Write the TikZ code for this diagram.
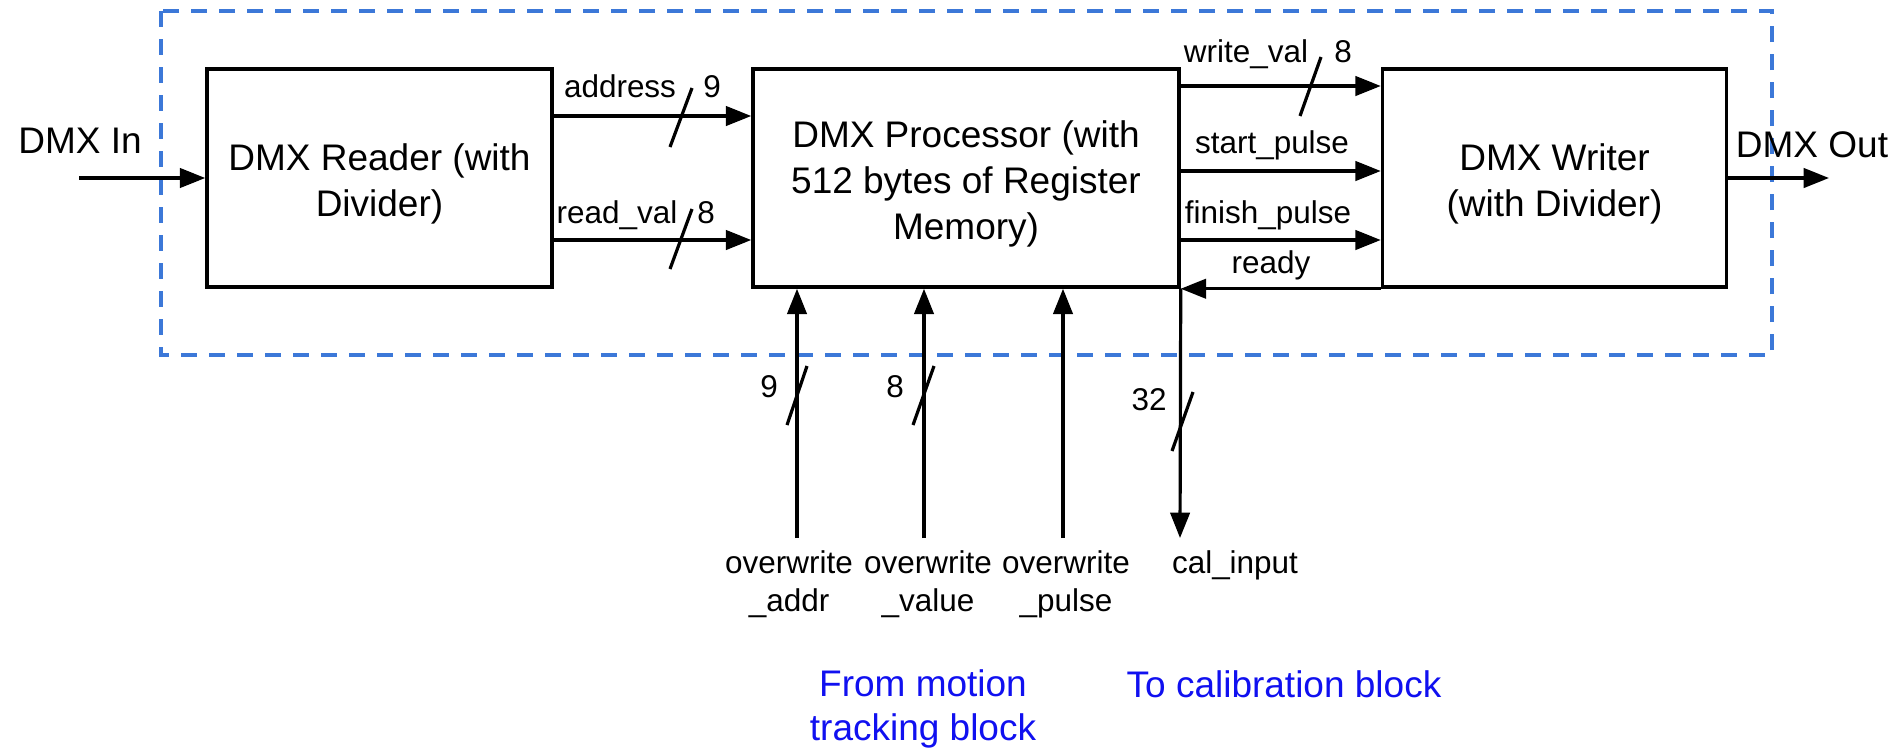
\documentclass[tikz,border=0pt]{standalone}
\usepackage{fontspec}
\setmainfont{Liberation Sans}
\usetikzlibrary{arrows.meta}
\definecolor{regionblue}{HTML}{3C78D8}
\definecolor{noteblue}{HTML}{1010F0}
\newcommand{\bigtext}{\fontsize{27.75pt}{33pt}\selectfont}
\newcommand{\blockfont}{\fontsize{27.75pt}{34.5pt}\selectfont}
\newcommand{\smalltext}{\fontsize{23.6pt}{28.5pt}\selectfont}
\tikzset{
  block/.style={draw=black, line width=2.6pt, minimum height=218*0.75pt, inner sep=0pt},
  blocktext/.style={align=center, font=\blockfont, inner sep=0pt},
  sig/.style={line width=2.4pt, -{Triangle[length=19pt,width=14.5pt]}},
  busmark/.style={line width=2.4pt},
  lbl/.style={font=\smalltext, inner sep=0pt, anchor=base, align=center},
  biglbl/.style={font=\bigtext, inner sep=0pt, anchor=base, align=center},
  note/.style={font=\bigtext, text=noteblue, inner sep=0pt, anchor=base, align=center},
  region/.style={draw=regionblue, line width=2.6pt, dash pattern=on 12pt off 9pt}
}
\begin{document}
\begin{tikzpicture}[x=0.75pt, y=-0.75pt]
\useasboundingbox (0,0) rectangle (1897,747);

% FPGA boundary
\draw[region] (161,11) rectangle (1772,355);

% main blocks
\node[block, minimum width=345*0.75pt] (reader) at (379.5,178) {};
\node[block, minimum width=426*0.75pt] (proc) at (966,178) {};
\node[block, minimum width=344*0.75pt] (writer) at (1554.5,178) {};
\node[blocktext] (readertext) at ([yshift=-4.5pt]reader.center) {DMX Reader (with\\Divider)};
\node[blocktext] (proctext) at ([yshift=-4.5pt]proc.center) {DMX Processor (with\\512 bytes of Register\\Memory)};
\node[blocktext] (writertext) at ([yshift=-4.5pt]writer.center) {DMX Writer\\(with Divider)};

% signal rows
\coordinate (yaddr) at (0,116);
\coordinate (yread) at (0,240);
\coordinate (ywval) at (0,86);
\coordinate (ystart) at (0,171);
\coordinate (yfinish) at (0,240);

% external ends
\coordinate (din) at (79,178);
\coordinate (dout) at (1829,178);
\coordinate (owaddr) at (797,538);
\coordinate (owvalue) at (924,538);
\coordinate (owpulse) at (1063,538);
\coordinate (calend) at (1180,538);

% DMX in / out
\draw[sig] (din) -- (reader.west);
\draw[sig] (writer.east) -- (dout);
\node[biglbl] (tin) at (80,153) {DMX In};
\node[biglbl] (tout) at (1812,157) {DMX Out};

% reader -> processor
\draw[sig] (reader.east |- yaddr) -- (proc.west |- yaddr);
\draw[sig] (reader.east |- yread) -- (proc.west |- yread);
\draw[busmark] (670,147) -- (692,88);
\draw[busmark] (670,269) -- (692,209);
\node[lbl] (laddr) at (620,97) {address};
\node[lbl] (naddr) at (712,97) {9};
\node[lbl] (lread) at (617,223) {read\_val};
\node[lbl] (nread) at (706,223) {8};

% processor <-> writer
\draw[sig] (proc.east |- ywval) -- (writer.west |- ywval);
\draw[sig] (proc.east |- ystart) -- (writer.west |- ystart);
\draw[sig] (proc.east |- yfinish) -- (writer.west |- yfinish);
\draw[sig] (writer.south west) -- (proc.south east);
\draw[busmark] (1300,116) -- (1321,57);
\node[lbl] (lwval) at (1246,62) {write\_val};
\node[lbl] (nwval) at (1343,62) {8};
\node[lbl] (lstart) at (1272,153) {start\_pulse};
\node[lbl] (lfinish) at (1268,223) {finish\_pulse};
\node[lbl] (lready) at (1271,273) {ready};

% overwrite inputs from below
\draw[sig] (owaddr) -- (owaddr |- proc.south);
\draw[sig] (owvalue) -- (owvalue |- proc.south);
\draw[sig] (owpulse) -- (owpulse |- proc.south);
\draw[busmark] (787,425) -- (807,366);
\draw[busmark] (913,425) -- (934,366);
\node[lbl] (naw) at (769,397) {9};
\node[lbl] (nvw) at (895,397) {8};
\node[lbl] (low1) at (789,611) {overwrite\\\_addr};
\node[lbl] (low2) at (928,611) {overwrite\\\_value};
\node[lbl] (low3) at (1066,611) {overwrite\\\_pulse};

% calibration output
\draw[sig] (proc.south east) -- (calend);
\draw[busmark] (1172,451) -- (1193,392);
\node[lbl] (ncal) at (1149,410) {32};
\node[lbl] (lcal) at (1235,573) {cal\_input};

% notes
\node[note] (nfrom) at (923,740) {From motion\\tracking block};
\node[note] (nto) at (1284,697) {To calibration block};
\end{tikzpicture}
\end{document}
